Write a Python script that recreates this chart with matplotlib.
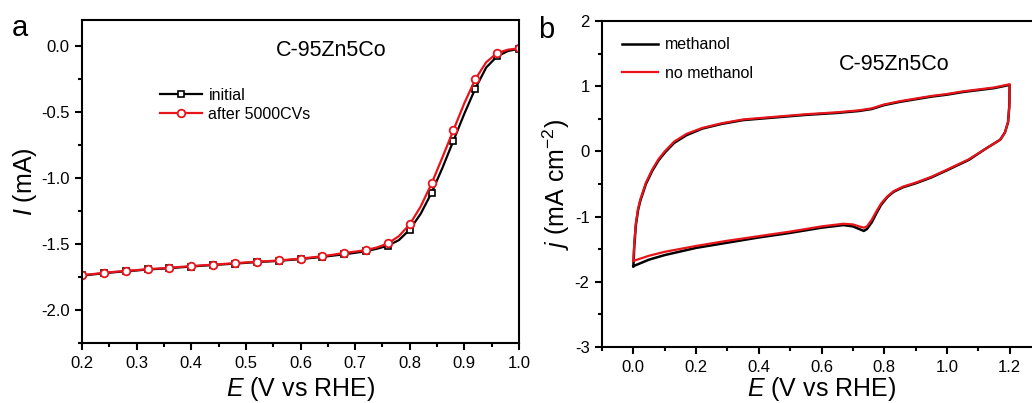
import matplotlib
matplotlib.use("Agg")
import matplotlib.pyplot as plt
from matplotlib.ticker import MultipleLocator, FormatStrFormatter

plt.rcParams['font.family'] = ['Liberation Sans', 'DejaVu Sans']
plt.rcParams['mathtext.fontset'] = 'custom'
plt.rcParams['mathtext.rm'] = 'Liberation Sans'
plt.rcParams['mathtext.it'] = 'Liberation Sans:italic'
plt.rcParams['axes.unicode_minus'] = False

# ---------------- Panel a data (LSV) ----------------
E_lsv = [0.20, 0.22, 0.24, 0.26, 0.28, 0.30, 0.32, 0.34, 0.36, 0.38, 0.40,
         0.42, 0.44, 0.46, 0.48, 0.50, 0.52, 0.54, 0.56, 0.58, 0.60,
         0.62, 0.64, 0.66, 0.68, 0.70, 0.72, 0.74, 0.76, 0.78, 0.80,
         0.82, 0.84, 0.86, 0.88, 0.90, 0.92, 0.94, 0.96, 0.98, 1.00]
I_initial = [-1.738, -1.730, -1.721, -1.713, -1.706, -1.700, -1.692, -1.688, -1.683, -1.676, -1.670,
             -1.664, -1.659, -1.653, -1.648, -1.642, -1.636, -1.632, -1.627, -1.620, -1.614,
             -1.605, -1.597, -1.587, -1.577, -1.566, -1.553, -1.535, -1.512, -1.470, -1.390,
             -1.270, -1.110, -0.920, -0.715, -0.510, -0.320, -0.160, -0.075, -0.035, -0.018]
I_after = [-1.735, -1.727, -1.718, -1.710, -1.703, -1.697, -1.690, -1.685, -1.680, -1.673, -1.667,
           -1.661, -1.656, -1.650, -1.645, -1.639, -1.633, -1.629, -1.624, -1.617, -1.610,
           -1.601, -1.592, -1.580, -1.567, -1.557, -1.545, -1.525, -1.495, -1.440, -1.350,
           -1.215, -1.040, -0.840, -0.635, -0.430, -0.250, -0.120, -0.050, -0.025, -0.015]

# ---------------- Panel b data (CV loops) ----------------
E_cv = [0.000, 0.003, 0.008, 0.015, 0.022, 0.040, 0.060, 0.080, 0.100, 0.130, 0.170,
        0.220, 0.280, 0.350, 0.450, 0.550, 0.650, 0.720, 0.760, 0.800, 0.850,
        0.900, 0.950, 1.000, 1.050, 1.100, 1.150, 1.200,
        1.199, 1.195, 1.185, 1.170, 1.120, 1.070, 1.000, 0.950, 0.900, 0.860,
        0.830, 0.810, 0.790, 0.775, 0.760, 0.745, 0.735, 0.720, 0.700, 0.670,
        0.600, 0.500, 0.400, 0.300, 0.200, 0.100, 0.050, 0.000]
j_no_methanol = [-1.68, -1.40, -1.10, -0.88, -0.74, -0.48, -0.28, -0.12, 0.00, 0.15, 0.27,
                 0.36, 0.43, 0.49, 0.53, 0.57, 0.60, 0.63, 0.66, 0.72, 0.77,
                 0.81, 0.85, 0.88, 0.92, 0.95, 0.98, 1.03,
                 0.70, 0.45, 0.29, 0.18, 0.03, -0.12, -0.28, -0.39, -0.48, -0.54,
                 -0.61, -0.69, -0.80, -0.92, -1.05, -1.15, -1.17, -1.15, -1.12, -1.11,
                 -1.15, -1.23, -1.30, -1.37, -1.45, -1.54, -1.60, -1.68]
j_methanol = [-1.76, -1.45, -1.13, -0.90, -0.76, -0.50, -0.30, -0.14, -0.02, 0.13, 0.25,
              0.35, 0.42, 0.48, 0.52, 0.56, 0.59, 0.62, 0.65, 0.71, 0.76,
              0.80, 0.84, 0.87, 0.91, 0.94, 0.97, 1.02,
              0.70, 0.45, 0.29, 0.18, 0.03, -0.13, -0.29, -0.40, -0.49, -0.55,
              -0.62, -0.70, -0.82, -0.95, -1.09, -1.19, -1.22, -1.19, -1.15, -1.13,
              -1.17, -1.25, -1.32, -1.40, -1.48, -1.59, -1.66, -1.76]

fig = plt.figure(figsize=(10.32, 4.03), dpi=100)

W, H = 1032.0, 403.0
def pos(l, r, t, b):
    return [l / W, 1 - b / H, (r - l) / W, (b - t) / H]

tick_fs = 12
lab_fs = 18
RED = '#e8141b'

def style_axes(ax):
    for s in ax.spines.values():
        s.set_linewidth(1.5)
    ax.tick_params(which='both', direction='out', top=False, right=False,
                   labelsize=tick_fs, width=1.5)
    ax.tick_params(which='major', length=5, pad=4)
    ax.tick_params(which='minor', length=3)

# ---------------- Panel a ----------------
ax1 = fig.add_axes(pos(82, 519, 20, 343))
ax1.plot(E_lsv, I_initial, color='black', lw=1.6, marker='s', markersize=4.5,
         markerfacecolor='white', markeredgecolor='black', markeredgewidth=1.2,
         markevery=2, label='initial')
ax1.plot(E_lsv, I_after, color=RED, lw=1.6, marker='o', markersize=5.5,
         markerfacecolor='white', markeredgecolor=RED, markeredgewidth=1.3,
         markevery=2, label='after 5000CVs')
ax1.set_xlim(0.2, 1.0)
ax1.set_ylim(-2.25, 0.2)
ax1.xaxis.set_major_locator(MultipleLocator(0.1))
ax1.xaxis.set_minor_locator(MultipleLocator(0.05))
ax1.yaxis.set_major_locator(MultipleLocator(0.5))
ax1.yaxis.set_minor_locator(MultipleLocator(0.25))
ax1.xaxis.set_major_formatter(FormatStrFormatter('%.1f'))
ax1.yaxis.set_major_formatter(FormatStrFormatter('%.1f'))
style_axes(ax1)
ax1.set_xlabel(r'$\mathit{E}$ (V vs RHE)', fontsize=lab_fs, labelpad=3)
ax1.set_ylabel(r'$\mathit{I}$ (mA)', fontsize=lab_fs, labelpad=1)
ax1.text(0.57, 0.905, 'C-95Zn5Co', transform=ax1.transAxes, fontsize=15.5,
         ha='center', va='center')
ax1.legend(loc='upper left', bbox_to_anchor=(0.165, 0.81), frameon=False,
           fontsize=11.5, handlelength=2.6, handletextpad=0.4, labelspacing=0.25,
           borderaxespad=0)

# ---------------- Panel b ----------------
ax2 = fig.add_axes(pos(602, 1041, 21, 347))
ax2.plot(E_cv, j_methanol, color='black', lw=1.8, label='methanol')
ax2.plot(E_cv, j_no_methanol, color=RED, lw=1.6, label='no methanol')
ax2.set_xlim(-0.1, 1.3)
ax2.set_ylim(-3, 2)
ax2.xaxis.set_major_locator(MultipleLocator(0.2))
ax2.xaxis.set_minor_locator(MultipleLocator(0.1))
ax2.yaxis.set_major_locator(MultipleLocator(1))
ax2.yaxis.set_minor_locator(MultipleLocator(0.5))
ax2.xaxis.set_major_formatter(FormatStrFormatter('%.1f'))
style_axes(ax2)
ax2.spines['right'].set_visible(False)
ax2.set_xlabel(r'$\mathit{E}$ (V vs RHE)', fontsize=lab_fs, labelpad=0.5)
ax2.set_ylabel(r'$\mathit{j}$ (mA cm$^{-2}$)', fontsize=lab_fs, labelpad=2)
ax2.text(0.665, 0.866, 'C-95Zn5Co', transform=ax2.transAxes, fontsize=15.5,
         ha='center', va='center')
ax2.legend(loc='upper left', bbox_to_anchor=(0.03, 0.97), frameon=False,
           fontsize=11.5, handlelength=2.3, handletextpad=0.4, labelspacing=0.85,
           borderaxespad=0)

fig.text(12 / W, 1 - 28 / H, 'a', fontsize=21, ha='left', va='center')
fig.text(538 / W, 1 - 30 / H, 'b', fontsize=21, ha='left', va='center')

fig.savefig('out.png', dpi=100)
